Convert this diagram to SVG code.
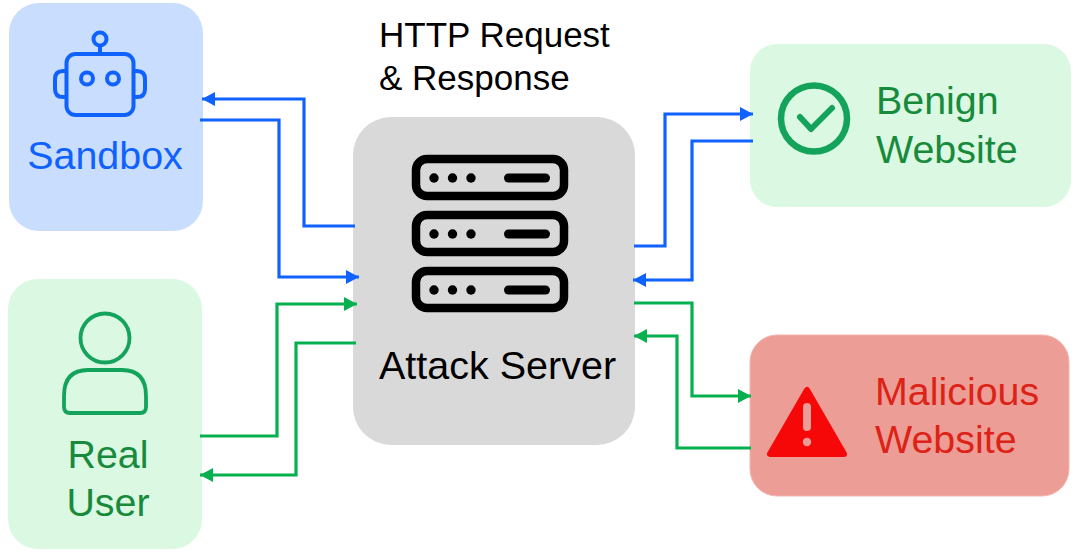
<svg xmlns="http://www.w3.org/2000/svg" width="1080" height="552" viewBox="0 0 1080 552">
<style>
text{font-family:"Liberation Sans",Arial,sans-serif;font-size:39.4px}
.c{fill:none;stroke-width:3.2;stroke-linejoin:miter}
.b{stroke:#0F62FE}.g{stroke:#06B04F}
.mid{text-anchor:middle}
.ico{fill:none;stroke-linejoin:round;stroke-linecap:round}
</style>
<defs>
<marker id="ab" markerUnits="userSpaceOnUse" markerWidth="16" markerHeight="16" refX="14" refY="8" orient="auto"><path d="M1 1L14 8L1 15Z" fill="#0F62FE"/></marker>
<marker id="ag" markerUnits="userSpaceOnUse" markerWidth="16" markerHeight="16" refX="14" refY="8" orient="auto"><path d="M1 1L14 8L1 15Z" fill="#06B04F"/></marker>
<g id="srv"><rect x="416" y="0" width="148" height="37" rx="11" fill="none" stroke="#000" stroke-width="8.500"/><circle cx="434" cy="19" r="4.700"/><circle cx="452.500" cy="19" r="4.700"/><circle cx="471" cy="19" r="4.700"/><rect x="504" y="14.500" width="46" height="9" rx="4.500"/></g>
</defs>
<rect width="1080" height="552" fill="#fff"/>
<g id="sandbox">
<rect x="9" y="3" width="194" height="228" rx="30" fill="#C9DDFE"/>
<g class="ico" stroke="#0F62FE" stroke-width="4">
<circle cx="100" cy="39" r="6.500"/><path d="M100 46V54"/>
<rect x="66.500" y="54" width="67" height="61" rx="9"/>
<path d="M66 71H63Q55 71 55 79V89Q55 97 63 97H66M134 71H137Q145 71 145 79V89Q145 97 137 97H134"/>
<circle cx="87" cy="78.500" r="6"/><circle cx="113" cy="78.500" r="6"/>
</g>
<text x="105" y="168.500" class="mid" fill="#0F62FE">Sandbox</text>
</g>
<g id="real-user">
<rect x="8" y="279" width="194" height="270" rx="30" fill="#DBF8E3"/>
<g class="ico" stroke="#14A35A" stroke-width="3.800">
<circle cx="105" cy="338" r="24.500"/>
<path d="M88 370H122Q146 370 146 396V407Q146 413 140 413H70Q64 413 64 407V396Q64 370 88 370Z"/>
</g>
<text x="108" y="468" class="mid" fill="#188A3C">Real</text>
<text x="108" y="516" class="mid" fill="#188A3C">User</text>
</g>
<g id="attack-server">
<rect x="353" y="117" width="282" height="328" rx="38" fill="#D9D9D9"/>
<use href="#srv" y="159"/><use href="#srv" y="215"/><use href="#srv" y="271"/>
<text x="497.500" y="378.500" class="mid" style="font-size:39.500px" fill="#000">Attack Server</text>
</g>
<g id="benign-website">
<rect x="750" y="44" width="321" height="163" rx="27" fill="#DBF8E3"/>
<circle cx="814" cy="118.500" r="33" fill="none" stroke="#14A35A" stroke-width="6.500"/>
<path d="M800 117L811 129L832 108" class="ico" stroke="#14A35A" stroke-width="6"/>
<text x="876" y="114" fill="#188A3C">Benign</text>
<text x="876" y="163" fill="#188A3C">Website</text>
</g>
<g id="malicious-website">
<rect x="750" y="335" width="319" height="161" rx="27" fill="#EC9D95" stroke="#F4B5AE" stroke-width="1"/>
<path d="M807 390L770 454H844Z" fill="#F70808" stroke="#F70808" stroke-width="6" stroke-linejoin="round"/>
<rect x="803" y="403" width="8" height="28" rx="4" fill="#EC9D95"/>
<circle cx="807" cy="442" r="4.200" fill="#EC9D95"/>
<text x="875" y="405" fill="#DD2218">Malicious</text>
<text x="875" y="453" fill="#DD2218">Website</text>
</g>
<text id="label" x="379" y="47" style="font-size:35px">HTTP Request</text>
<text x="379" y="90" style="font-size:35px">&amp; Response</text>
<g id="connectors">
<path class="c b" marker-end="url(#ab)" d="M355 226H304V99H202"/>
<path class="c b" marker-end="url(#ab)" d="M200 120H279V277H359"/>
<path class="c g" marker-end="url(#ag)" d="M200 436H277V304H357"/>
<path class="c g" marker-end="url(#ag)" d="M356 343H296V475H200"/>
<path class="c b" marker-end="url(#ab)" d="M634 246H665V114H753"/>
<path class="c b" marker-end="url(#ab)" d="M753 141H692V280H633"/>
<path class="c g" marker-end="url(#ag)" d="M634 303H692V396H751"/>
<path class="c g" marker-end="url(#ag)" d="M751 448H677V336H634"/>
</g>
</svg>
